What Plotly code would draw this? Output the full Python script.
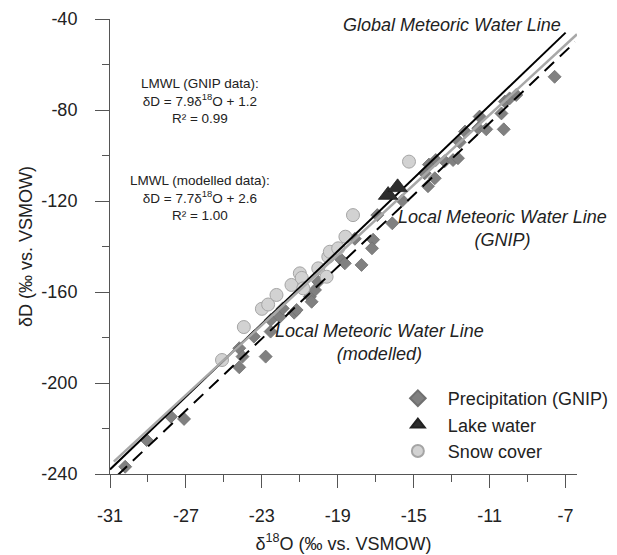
import plotly.graph_objects as go

# ---------------- data ----------------
precip_o18 = [-30.2, -29.07, -27.79, -27.1, -24.19, -24.02, -24.19, -23.42, -22.8, -22.54,
              -22.53, -22.05, -21.9, -21.3, -21.17, -20.47, -20.38, -20.2, -20.03, -18.89,
              -18.63, -17.75, -18.1, -17.14, -17.2, -16.92, -16.13, -15.6, -14.25, -13.89,
              -14.42, -14.2, -13.84, -13.37, -12.93, -12.67, -12.58, -12.3, -11.6, -11.18,
              -11.53, -10.38, -10.26, -10.2, -9.95, -9.6, -7.58]
precip_dD = [-236.8, -225.1, -214.8, -215.8, -184.7, -188.4, -193.1, -179.6, -188.4, -177.4,
             -172.3, -170.9, -167.2, -169.1, -167.9, -162.1, -164.3, -159.1, -155.5, -145.2,
             -147.4, -148.1, -136.6, -137.0, -140.8, -126.2, -129.8, -119.8, -113.5, -110.0,
             -107.8, -104.0, -102.0, -102.5, -102.0, -101.2, -94.2, -89.5, -88.0, -88.5,
             -82.9, -81.5, -88.5, -76.3, -74.9, -73.4, -65.4]

lake_o18 = [-16.35, -15.85]
lake_dD = [-117.4, -114.0]

snow_o18 = [-25.1, -23.95, -23.0, -22.67, -22.23, -21.44, -21.0, -20.9, -20.82, -20.03,
            -19.59, -19.5, -19.42, -18.98, -18.6, -18.2, -15.25]
snow_dD = [-189.9, -175.4, -167.4, -165.5, -161.3, -156.9, -151.8, -153.8, -158.4, -149.6,
           -153.3, -144.5, -142.3, -140.8, -135.7, -126.2, -102.7]

# regression / reference lines: (slope, intercept) and x extent
gmwl_coef = (8.0, 10.0)
gmwl_x = [-31.0, -7.0]
lmwl_gnip_coef = (7.9, 1.2)
lmwl_gnip_x = [-30.6, -6.5]
lmwl_mod_coef = (7.7, 2.6)
lmwl_mod_x = [-30.8, -6.4]

x_ticks = [-31, -27, -23, -19, -15, -11, -7]
x_minor = [-29, -25, -21, -17, -13, -9]
y_ticks = [-240, -200, -160, -120, -80, -40]
y_minor = [-220, -180, -140, -100, -60]


def line_y(coef, xs):
    return [coef[0] * x + coef[1] for x in xs]


FONT = "Liberation Sans, Arial, sans-serif"
AXC = "#555555"
TXT = "#222222"

fig = go.Figure()

fig.add_trace(go.Scatter(
    x=precip_o18, y=precip_dD, mode="markers", name="Precipitation (GNIP)",
    marker=dict(symbol="diamond", size=10, color="#808080",
                line=dict(color="#707070", width=0.8)),
    legendrank=1))
fig.add_trace(go.Scatter(
    x=snow_o18, y=snow_dD, mode="markers", name="Snow cover",
    marker=dict(symbol="circle", size=13, color="#d2d2d2",
                line=dict(color="#a5a5a5", width=1)),
    legendrank=3))

fig.add_trace(go.Scatter(x=gmwl_x, y=line_y(gmwl_coef, gmwl_x), mode="lines",
                         line=dict(color="black", width=2), showlegend=False, hoverinfo="skip"))
fig.add_trace(go.Scatter(x=lmwl_mod_x, y=line_y(lmwl_mod_coef, lmwl_mod_x), mode="lines",
                         line=dict(color="#a8a8a8", width=2.5), showlegend=False, hoverinfo="skip"))
fig.add_trace(go.Scatter(x=lmwl_gnip_x, y=line_y(lmwl_gnip_coef, lmwl_gnip_x), mode="lines",
                         line=dict(color="black", width=2, dash="13px,8px"),
                         showlegend=False, hoverinfo="skip"))

fig.add_trace(go.Scatter(
    x=lake_o18, y=lake_dD, mode="markers", name="Lake water",
    marker=dict(symbol="triangle-up", size=17, color="#2e2e2e",
                line=dict(color="#222222", width=0.8)),
    legendrank=2))

# ---------------- annotations ----------------
ann = []
ital = dict(family=FONT, size=18, color=TXT)
ann.append(dict(x=-7.16, y=-42.6, xref="x", yref="y", text="<i>Global Meteoric Water Line</i>",
                xanchor="right", yanchor="middle", showarrow=False, font=ital))
ann.append(dict(x=-10.32, y=-132.3, xref="x", yref="y",
                text="<i>Local Meteoric Water Line<br>(GNIP)</i>",
                xanchor="center", yanchor="middle", showarrow=False, font=ital, align="center"))
ann.append(dict(x=-16.79, y=-182.0, xref="x", yref="y",
                text="<i>Local Meteoric Water Line<br>(modelled)</i>",
                xanchor="center", yanchor="middle", showarrow=False, font=ital, align="center"))

eqf = dict(family=FONT, size=13.5, color=TXT)
gnip_text = "LMWL (GNIP data):<br>δD = 7.9δ<sup>18</sup>O + 1.2<br>R² = 0.99"
mod_text = "LMWL (modelled data):<br>δD = 7.7δ<sup>18</sup>O + 2.6<br>R² = 1.00"
ann.append(dict(x=-26.26, y=-76.0, xref="x", yref="y", text=gnip_text, xanchor="center",
                yanchor="middle", showarrow=False, font=eqf, align="center"))
ann.append(dict(x=-26.26, y=-118.7, xref="x", yref="y", text=mod_text, xanchor="center",
                yanchor="middle", showarrow=False, font=eqf, align="center"))

fig.update_layout(
    width=617, height=555,
    margin=dict(l=110, r=40, t=19, b=81, autoexpand=False),
    paper_bgcolor="white", plot_bgcolor="white",
    font=dict(family=FONT, size=18, color=TXT),
    annotations=ann,
    showlegend=True,
    legend=dict(x=0.595, y=0.2066, xanchor="left", yanchor="top",
                bgcolor="rgba(0,0,0,0)", font=dict(family=FONT, size=18, color=TXT),
                tracegroupgap=0, itemsizing="constant", itemwidth=50),
)

fig.update_xaxes(
    range=[-31, -6.4], tickvals=x_ticks, ticktext=[str(v) for v in x_ticks],
    showgrid=False, zeroline=False, showline=True, linecolor=AXC, linewidth=1,
    ticks="outside", ticklen=13, tickcolor=AXC, tickwidth=1,
    ticklabelstandoff=12, automargin=False,
    minor=dict(tickvals=x_minor, ticks="outside", ticklen=7, tickcolor=AXC, tickwidth=1),
    title=dict(text="δ<sup>18</sup>O (‰ vs. VSMOW)", font=dict(size=18), standoff=12),
    tickfont=dict(size=18),
)
fig.update_yaxes(
    range=[-240, -40], tickvals=y_ticks, ticktext=[str(v) for v in y_ticks],
    showgrid=False, zeroline=False, showline=True, linecolor=AXC, linewidth=1,
    ticks="outside", ticklen=14, tickcolor=AXC, tickwidth=1,
    ticklabelstandoff=14, automargin=False,
    minor=dict(tickvals=y_minor, ticks="outside", ticklen=7, tickcolor=AXC, tickwidth=1),
    title=dict(text="δD (‰ vs. VSMOW)", font=dict(size=18), standoff=4),
    tickfont=dict(size=18),
)

fig.write_html("out.html")
